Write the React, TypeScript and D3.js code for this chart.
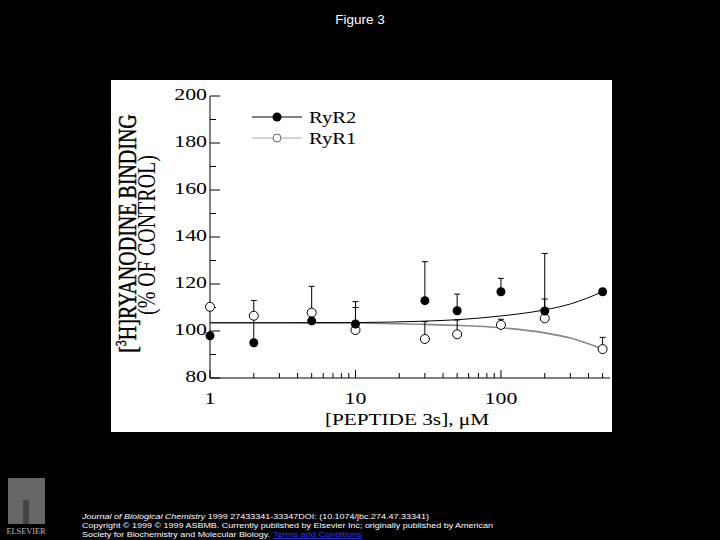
import React from 'react';
import * as d3 from 'd3';

// peptide concentration (uM) and binding (% of control)
const conc = [1, 2, 5, 10, 30, 50, 100, 200, 500];
const ryr2 = [98, 95, 104.3, 103, 112.9, 108.6, 116.7, 108.5, 116.7];
const ryr2Err = [0, 18, 14.7, 9.5, 16.6, 7.1, 5.7, 24.5, 0];
const ryr1 = [110.3, 106.5, 107.8, 100.4, 96.6, 98.6, 102.6, 105.4, 92.3];
const ryr1Err = [0, 0, 0, 9.6, 7.4, 6.1, 2.4, 8.2, 5];

// fitted curves
const fitConc = [1, 3, 10, 30, 50, 100, 200, 300, 500];
const ryr2Fit = [103.5, 103.5, 103.6, 104.2, 104.8, 106.4, 109.0, 111.5, 116.7];
const ryr1Fit = [103.5, 103.5, 103.4, 102.8, 102.4, 101.4, 99.2, 97.0, 92.3];

const yTicks = [80, 100, 120, 140, 160, 180, 200];
const xTickLabels = [1, 10, 100];

const SERIF = '"Liberation Serif", "DejaVu Serif", serif';
const SANS = '"Liberation Sans", Arial, sans-serif';
const STRETCH = 1.25;

export default function App() {
  const x = d3.scaleLog().domain([1, 580]).range([210, 612]);
  const y = d3.scaleLinear().domain([80, 200]).range([378, 96]);

  const minorY = d3.range(80, 201, 10).filter(v => v % 20 !== 0);
  const minorX: number[] = [];
  [1, 10, 100].forEach(dec => {
    for (let k = 2; k <= 9; k++) if (dec * k <= 580) minorX.push(dec * k);
  });

  const line = d3.line<[number, number]>()
    .x(d => x(d[0]))
    .y(d => y(d[1]))
    .curve(d3.curveMonotoneX);

  const fit2 = line(fitConc.map((c, i) => [c, ryr2Fit[i]] as [number, number])) || '';
  const fit1 = line(fitConc.map((c, i) => [c, ryr1Fit[i]] as [number, number])) || '';

  const errBars = (vals: number[], errs: number[], key: string) =>
    conc.map((c, i) => errs[i] > 0 && (
      <g key={key + i} stroke="#000" strokeWidth={1}>
        <line x1={x(c)} x2={x(c)} y1={y(vals[i])} y2={y(vals[i] + errs[i])} />
        <line x1={x(c) - 3} x2={x(c) + 3} y1={y(vals[i] + errs[i])} y2={y(vals[i] + errs[i])} />
      </g>
    ));

  const stretched = (tx: number, ty: number) => `translate(${tx},${ty}) scale(${STRETCH},1)`;

  return (
    <div style={{ position: 'fixed', left: 0, top: 0, width: 720, height: 540, background: '#000' }}>
      <svg width={720} height={540} style={{ display: 'block' }}>
        <rect x={0} y={0} width={720} height={540} fill="#000" />
        <text x={360} y={24} textAnchor="middle" fill="#fff" fontFamily={SANS} fontSize={13.5}>Figure 3</text>

        {/* white figure panel */}
        <rect x={111} y={80} width={501} height={352} fill="#fff" />

        {/* y axis */}
        <line x1={210} x2={210} y1={y(200)} y2={y(80)} stroke="#000" strokeWidth={1} />
        {yTicks.map(v => (
          <g key={'yt' + v}>
            <line x1={210} x2={220} y1={y(v)} y2={y(v)} stroke="#000" strokeWidth={1} />
            <text transform={stretched(207, y(v) + 4)} textAnchor="end" fontFamily={SERIF} fontSize={17.5} fill="#000">{v}</text>
          </g>
        ))}
        {minorY.map(v => (
          <line key={'ym' + v} x1={210} x2={216} y1={y(v)} y2={y(v)} stroke="#000" strokeWidth={1} />
        ))}

        {/* x axis */}
        <line x1={210} x2={610} y1={378} y2={378} stroke="#000" strokeWidth={1} />
        {xTickLabels.map(v => (
          <g key={'xt' + v}>
            <line x1={x(v)} x2={x(v)} y1={378} y2={370} stroke="#000" strokeWidth={1} />
            <text transform={stretched(x(v), 404)} textAnchor="middle" fontFamily={SERIF} fontSize={17.5} fill="#000">{v}</text>
          </g>
        ))}
        {minorX.map(v => (
          <line key={'xm' + v} x1={x(v)} x2={x(v)} y1={378} y2={373} stroke="#000" strokeWidth={1} />
        ))}

        {/* axis titles */}
        <text transform={`translate(136,233.5) scale(${STRETCH},1) rotate(-90)`} textAnchor="middle" fontFamily={SERIF} fontSize={20} fill="#000" stroke="#000" strokeWidth={0.35}>
          [<tspan fontSize={12} dy={-8}>3</tspan><tspan dy={8}>H]RYANODINE BINDING</tspan>
        </text>
        <text transform={`translate(155,235) scale(${STRETCH},1) rotate(-90)`} textAnchor="middle" fontFamily={SERIF} fontSize={20} fill="#000">
          (% OF CONTROL)
        </text>
        <text transform={stretched(407, 425)} textAnchor="middle" fontFamily={SERIF} fontSize={17} fill="#000">
          [PEPTIDE 3s], μM
        </text>

        {/* fitted curves */}
        <path d={fit1} fill="none" stroke="#888" strokeWidth={1.6} />
        <path d={fit2} fill="none" stroke="#000" strokeWidth={1} />

        {/* error bars */}
        {errBars(ryr2, ryr2Err, 'e2')}
        {errBars(ryr1, ryr1Err, 'e1')}

        {/* points */}
        {conc.map((c, i) => (
          <circle key={'p1' + i} cx={x(c)} cy={y(ryr1[i])} r={4.5} fill="#fff" stroke="#000" strokeWidth={1} />
        ))}
        {conc.map((c, i) => (
          <circle key={'p2' + i} cx={x(c)} cy={y(ryr2[i])} r={4.5} fill="#000" />
        ))}

        {/* legend */}
        <line x1={252} x2={302} y1={117} y2={117} stroke="#000" strokeWidth={1} />
        <circle cx={277} cy={117} r={4.5} fill="#000" />
        <text transform={stretched(309, 122.5)} fontFamily={SERIF} fontSize={16.5} fill="#000">RyR2</text>
        <line x1={252} x2={302} y1={138} y2={138} stroke="#aaa" strokeWidth={1} />
        <circle cx={277} cy={138} r={4} fill="#fff" stroke="#666" strokeWidth={1} />
        <text transform={stretched(309, 143.5)} fontFamily={SERIF} fontSize={16.5} fill="#000">RyR1</text>

        {/* publisher footer */}
        <rect x={8} y={478} width={37} height={46} fill="#888" opacity={0.75} />
        <rect x={23} y={500} width={6} height={24} fill="#444" />
        <text x={26} y={534} textAnchor="middle" fontFamily={SERIF} fontSize={8.5} fill="#bbb" textLength={39} lengthAdjust="spacingAndGlyphs">ELSEVIER</text>
        <text x={82} y={518.5} fontFamily={SANS} fontSize={7.8} fill="#fff" textLength={347} lengthAdjust="spacingAndGlyphs">
          <tspan fontStyle="italic">Journal of Biological Chemistry</tspan> 1999 27433341-33347DOI: (10.1074/jbc.274.47.33341)
        </text>
        <text x={82} y={527.5} fontFamily={SANS} fontSize={7.8} fill="#fff" textLength={411} lengthAdjust="spacingAndGlyphs">
          Copyright © 1999 © 1999 ASBMB. Currently published by Elsevier Inc; originally published by American
        </text>
        <text x={82} y={537} fontFamily={SANS} fontSize={7.8} fill="#fff" textLength={188} lengthAdjust="spacingAndGlyphs">
          Society for Biochemistry and Molecular Biology.
        </text>
        <text x={273} y={537} fontFamily={SANS} fontSize={7.8} fill="#33f" textDecoration="underline" textLength={89} lengthAdjust="spacingAndGlyphs">
          Terms and Conditions
        </text>
      </svg>
    </div>
  );
}
